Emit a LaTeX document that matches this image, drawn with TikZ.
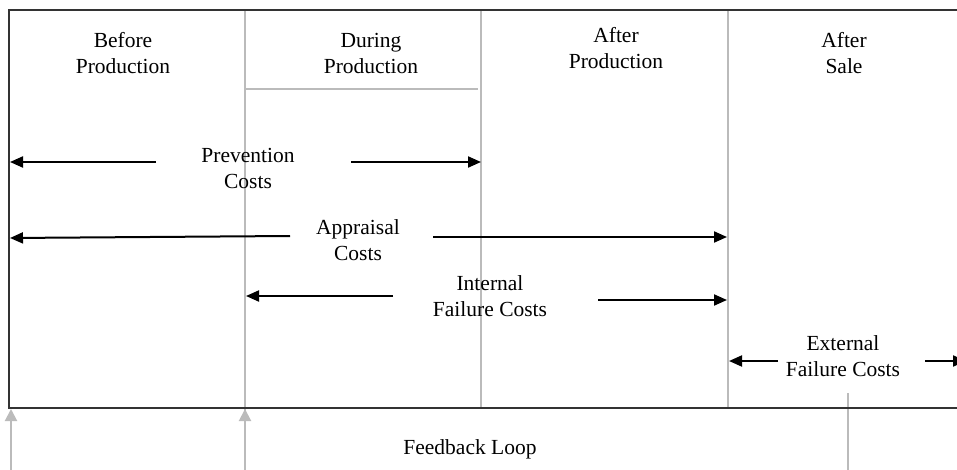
\documentclass[tikz,border=0pt]{standalone}
\usepackage{fontspec}
\setmainfont{Liberation Serif}
\usetikzlibrary{arrows.meta}
\definecolor{frame}{HTML}{333333}
\definecolor{divider}{HTML}{BBBBBB}
\tikzset{
  frameline/.style={draw=frame, line width=2.2pt},
  divline/.style={draw=divider, line width=2pt},
  costarrow/.style={draw=black, line width=2pt, -{Triangle[length=13pt,width=11pt]}},
  fbarrow/.style={draw=divider, line width=2pt, -{Triangle[length=12pt,width=12pt]}},
  lbl/.style={align=center, inner sep=0pt, font=\fontsize{21.5}{26}\selectfont}
}
\begin{document}
\begin{tikzpicture}[x=1pt,y=-1pt]
\useasboundingbox (0,0) rectangle (957,470);
% frame corners
\coordinate (tl) at (9,10);
\coordinate (tr) at (957,10);
\coordinate (bl) at (9,408);
\coordinate (br) at (957,408);
% dividers
\coordinate (d1t) at (245,10);  \coordinate (d1b) at (245,470);
\coordinate (d2t) at (481,10);  \coordinate (d2b) at (481,408);
\coordinate (d3t) at (728,10);  \coordinate (d3b) at (728,408);
\coordinate (hl) at (245,89);   \coordinate (hr) at (478,89);
\coordinate (s1t) at (848,393); \coordinate (s1b) at (848,470);
\draw[divline] (d1t) -- (d1b);
\draw[divline] (d2t) -- (d2b);
\draw[divline] (d3t) -- (d3b);
\draw[divline] (hl) -- (hr);
\draw[divline] (s1t) -- (s1b);
\draw[frameline] (tr) -- (tl) -- (bl) -- (br);
% feedback arrows
\coordinate (f1s) at (11,470); \coordinate (f1e) at (11,409);
\coordinate (f2s) at (245,470); \coordinate (f2e) at (245,409);
\draw[fbarrow] (f1s) -- (f1e);
\draw[fbarrow] (f2s) -- (f2e);
% header labels
\node[lbl] (before) at (123,53) {Before\\Production};
\node[lbl] (during) at (371,53) {During\\Production};
\node[lbl] (afterp) at (616,48) {After\\Production};
\node[lbl] (afters) at (844,53) {After\\Sale};
% cost labels
\node[lbl] (prev) at (248,168) {Prevention\\Costs};
\node[lbl] (appr) at (358,240) {Appraisal\\Costs};
\node[lbl] (intf) at (490,296) {Internal\\Failure Costs};
\node[lbl] (extf) at (843,356) {External\\Failure Costs};
\node[lbl] (fb) at (470,449) {Feedback Loop};
% cost arrows
\coordinate (p1s) at (156,162); \coordinate (p1e) at (10,162);
\coordinate (p2s) at (351,162); \coordinate (p2e) at (481,162);
\coordinate (a1s) at (290,236); \coordinate (a1e) at (10,238);
\coordinate (a2s) at (433,237); \coordinate (a2e) at (727,237);
\coordinate (i1s) at (393,296); \coordinate (i1e) at (246,296);
\coordinate (i2s) at (598,300); \coordinate (i2e) at (727,300);
\coordinate (e1s) at (778,361); \coordinate (e1e) at (729,361);
\coordinate (e2s) at (925,361); \coordinate (e2e) at (966,361);
\draw[costarrow] (p1s) -- (p1e);
\draw[costarrow] (p2s) -- (p2e);
\draw[costarrow] (a1s) -- (a1e);
\draw[costarrow] (a2s) -- (a2e);
\draw[costarrow] (i1s) -- (i1e);
\draw[costarrow] (i2s) -- (i2e);
\draw[costarrow] (e1s) -- (e1e);
\begin{scope}
\clip (0,0) rectangle (957,470);
\draw[costarrow] (e2s) -- (e2e);
\end{scope}
\end{tikzpicture}
\end{document}
